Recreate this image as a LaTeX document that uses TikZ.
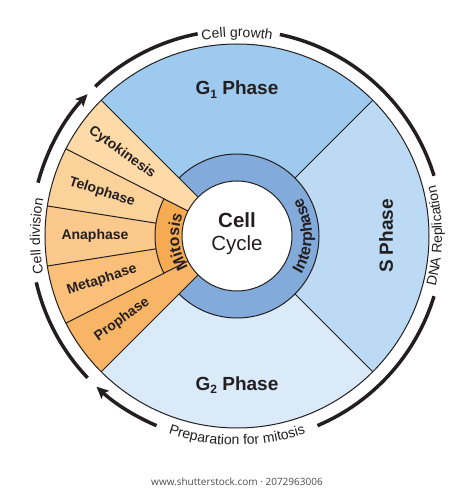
\documentclass[tikz,border=0pt]{standalone}
\usepackage{fontspec}
\setmainfont{Liberation Sans}
\newfontfamily\urlfont{Open Sans}
\usetikzlibrary{arrows.meta,decorations.text}
\definecolor{gonecol}{HTML}{9DCAEE}
\definecolor{sphcol}{HTML}{BCDAF3}
\definecolor{gtwocol}{HTML}{DAEAF8}
\definecolor{ringcol}{HTML}{82AADB}
\definecolor{cytocol}{HTML}{FDDAA8}
\definecolor{telocol}{HTML}{FCD29B}
\definecolor{anacol}{HTML}{FBC98B}
\definecolor{metacol}{HTML}{FAC07A}
\definecolor{procol}{HTML}{F8B566}
\definecolor{mitocol}{HTML}{F6AB52}
\definecolor{inkcol}{HTML}{231F20}
\def\rOut{192pt}
\def\rRing{82pt}
\def\rCore{55pt}
\def\rArr{206pt}
\def\rLab{142pt}
\def\sectorpath#1#2#3{(0,0) -- (#1:#3) arc[start angle=#1, end angle=#2, radius=#3] -- cycle}
\def\phsub#1{\raisebox{-0.35ex}{\fontsize{12pt}{12pt}\selectfont #1}}
\def\arcfont{\fontsize{14pt}{16pt}\selectfont}
\def\ringfont{\bfseries\fontsize{16pt}{18pt}\selectfont}
\tikzset{
  phase/.style={font=\bfseries\fontsize{19pt}{21pt}\selectfont, text=inkcol},
  stage/.style={font=\bfseries\fontsize{14pt}{16pt}\selectfont, text=inkcol},
  seam/.style={line width=1pt, draw=inkcol},
  rim/.style={line width=3.5pt, draw=inkcol},
  tip/.style={-{Stealth[length=12pt,width=11pt,inset=2.5pt]}},
  arclabel/.style={decorate, decoration={text along path, text align=center, text color=inkcol, text={#1}}}
}

\begin{document}
\begin{tikzpicture}
    \useasboundingbox (-237pt,-253pt) rectangle (237pt,236pt);
    \begin{scope}
        % interphase
        \fill[gonecol] \sectorpath{45}{135}{\rOut};
        \fill[sphcol] \sectorpath{-45}{45}{\rOut};
        \fill[gtwocol] \sectorpath{225}{315}{\rOut};
        % mitosis stages
        \fill[cytocol] \sectorpath{135}{153}{\rOut};
        \fill[telocol] \sectorpath{153}{171}{\rOut};
        \fill[anacol] \sectorpath{171}{189}{\rOut};
        \fill[metacol] \sectorpath{189}{207}{\rOut};
        \fill[procol] \sectorpath{207}{225}{\rOut};
        % inner rings
        \fill[ringcol] \sectorpath{-135}{135}{\rRing};
        \fill[mitocol] \sectorpath{153}{207}{\rRing};
        \fill[white] (0,0) circle[radius=\rCore];
    \end{scope}
    \draw[seam] (0,0) circle[radius=\rOut];
    \draw[seam] (0,0) circle[radius=\rCore];
    \draw[seam] (-135:\rRing) arc[start angle=-135, end angle=135, radius=\rRing];
    \draw[seam] (153:\rRing) arc[start angle=153, end angle=207, radius=\rRing];
    \foreach \a in {45,-45,171,189}
        \draw[seam] (\a:\rRing) -- (\a:\rOut);
    \foreach \a in {135,153,207,225}
        \draw[seam] (\a:\rCore) -- (\a:\rOut);

    % outer arrows
    \draw[rim] (133.5:\rArr) arc[start angle=133.5, end angle=101, radius=\rArr];
    \draw[rim] (78:\rArr) arc[start angle=78, end angle=17, radius=\rArr];
    \draw[rim] (-17:\rArr) arc[start angle=-17, end angle=-67, radius=\rArr];
    \draw[rim,tip] (-113:\rArr) arc[start angle=-113, end angle=-133, radius=\rArr];
    \draw[rim] (223.5:\rArr) arc[start angle=223.5, end angle=193, radius=\rArr];
    \draw[rim,tip] (165:\rArr) arc[start angle=165, end angle=136.5, radius=\rArr];

    \path[arclabel={|\arcfont|Cell growth}] (120:199pt) arc[start angle=120, end angle=60, radius=199pt];
    \path[arclabel={|\arcfont|DNA Replication}] (-40:205pt) arc[start angle=-40, end angle=40, radius=205pt];
    \path[arclabel={|\arcfont|Preparation for mitosis}] (225:209pt) arc[start angle=225, end angle=315, radius=209pt];
    \path[arclabel={|\arcfont|Cell division}] (210:197pt) arc[start angle=210, end angle=150, radius=197pt];
    \path[arclabel={|\ringfont|Interphase}] (-60:75pt) arc[start angle=-60, end angle=60, radius=75pt];
    \path[arclabel={|\ringfont|Mitosis}] (246:58pt) arc[start angle=246, end angle=126, radius=58pt];

    \node[phase, anchor=base] (gone) at (0,141pt) {G\phsub{1} Phase};
    \node[phase, rotate=90] (sph) at (0:149pt) {S Phase};
    \node[phase, anchor=base] (gtwo) at (0,-154pt) {G\phsub{2} Phase};
    \node[font=\fontsize{20.5pt}{23pt}\selectfont, align=center, text=inkcol] (core) at (0,2pt) {\textbf{Cell}\\Cycle};

    \node[stage, rotate=-36] (cyto) at (144:\rLab) {Cytokinesis};
    \node[stage, rotate=-18] (telo) at (162:\rLab) {Telophase};
    \node[stage] (ana) at (180:\rLab) {Anaphase};
    \node[stage, rotate=18] (meta) at (198:\rLab) {Metaphase};
    \node[stage, rotate=36] (pro) at (216:\rLab) {Prophase};

    \node[font=\urlfont\fontsize{10pt}{12pt}\selectfont, text=black!70] (url) at (0,-246pt) {www.shutterstock.com · 2072963006};
\end{tikzpicture}
\end{document}
